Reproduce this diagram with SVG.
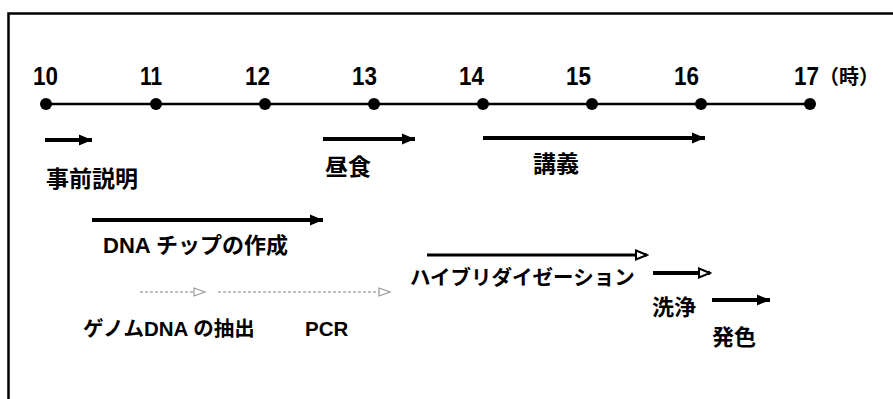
<svg xmlns="http://www.w3.org/2000/svg" width="893" height="399" viewBox="0 0 893 399">
<style>
.t{font-family:"Liberation Sans","Noto Sans CJK JP",sans-serif;font-weight:bold;fill:#000}
.num{font-size:25px}
.unit{font-size:20px}
.lbl{font-size:23px}
.mid{font-size:22px}
.sm{font-size:20.5px}
.ar{stroke:#000;stroke-width:4;fill:none}
.ar2{stroke:#000;stroke-width:3;fill:none}
.dot{stroke:#aaa;stroke-width:1.5;stroke-dasharray:3 2;fill:none}
</style>
<defs>
<marker id="ah" markerUnits="userSpaceOnUse" markerWidth="14" markerHeight="14" refX="13" refY="7" orient="auto">
<path d="M0,1.5 L13,7 L0,12.5 z" fill="#000"/>
</marker>
<marker id="ahh" markerUnits="userSpaceOnUse" markerWidth="14" markerHeight="14" refX="12" refY="7" orient="auto">
<path d="M1,2.5 L12,7 L1,11.5 z" fill="#fff" stroke="#000" stroke-width="2"/>
</marker>
<marker id="ahd" markerUnits="userSpaceOnUse" markerWidth="14" markerHeight="14" refX="12" refY="7" orient="auto">
<path d="M1,3 L12,7 L1,11 z" fill="#fff" stroke="#999" stroke-width="1.2"/>
</marker>
</defs>
<rect x="0" y="0" width="893" height="399" fill="#fff"/>
<path d="M8.5,399 V13.5 H893" fill="none" stroke="#000" stroke-width="2.5"/>

<g id="timeline">
<line x1="46" y1="104" x2="810" y2="104" stroke="#000" stroke-width="2.5"/>
<circle cx="46" cy="104" r="6"/>
<circle cx="156" cy="104" r="6"/>
<circle cx="265" cy="104" r="6"/>
<circle cx="374" cy="104" r="6"/>
<circle cx="483" cy="104" r="6"/>
<circle cx="592" cy="104" r="6"/>
<circle cx="701" cy="104" r="6"/>
<circle cx="810" cy="104" r="6"/>
<text class="t num" x="33" y="85" textLength="25" lengthAdjust="spacingAndGlyphs">10</text>
<text class="t num" x="140" y="85" textLength="22" lengthAdjust="spacingAndGlyphs">11</text>
<text class="t num" x="245" y="85" textLength="25" lengthAdjust="spacingAndGlyphs">12</text>
<text class="t num" x="352" y="85" textLength="25" lengthAdjust="spacingAndGlyphs">13</text>
<text class="t num" x="459" y="85" textLength="25" lengthAdjust="spacingAndGlyphs">14</text>
<text class="t num" x="566" y="85" textLength="25" lengthAdjust="spacingAndGlyphs">15</text>
<text class="t num" x="674" y="85" textLength="25" lengthAdjust="spacingAndGlyphs">16</text>
<text class="t num" x="794" y="85" textLength="25" lengthAdjust="spacingAndGlyphs">17</text>
<text class="t unit" x="819" y="84">（時）</text>
</g>

<g id="connectors">
<line class="ar" x1="45" y1="140" x2="92" y2="140" marker-end="url(#ah)"/>
<line class="ar" x1="323" y1="139" x2="415" y2="139" marker-end="url(#ah)"/>
<line class="ar" x1="483" y1="138" x2="705" y2="138" marker-end="url(#ah)"/>
<line class="ar" x1="92" y1="220" x2="323" y2="220" marker-end="url(#ah)"/>
<line class="ar2" x1="427" y1="255" x2="647" y2="255" marker-end="url(#ahh)"/>
<line class="ar" x1="653" y1="273" x2="710" y2="273" marker-end="url(#ahh)"/>
<line class="ar" x1="712" y1="300" x2="770" y2="300" marker-end="url(#ah)"/>
<line class="dot" x1="140" y1="292" x2="205" y2="292" marker-end="url(#ahd)"/>
<line class="dot" x1="218" y1="292" x2="390" y2="292" marker-end="url(#ahd)"/>
</g>

<g id="n-setsumei"><text class="t lbl" x="46" y="187">事前説明</text></g>
<g id="n-chushoku"><text class="t lbl" x="325" y="175">昼食</text></g>
<g id="n-kougi"><text class="t lbl" x="533" y="172">講義</text></g>
<g id="n-chip"><text class="t mid" x="103" y="253">DNA チップの作成</text></g>
<g id="n-hybri"><text class="t sm" x="410" y="285">ハイブリダイゼーション</text></g>
<g id="n-genome"><text class="t sm" x="83" y="336">ゲノムDNA の抽出</text></g>
<g id="n-pcr"><text class="t sm" x="305" y="336">PCR</text></g>
<g id="n-senjo"><text class="t mid" x="652" y="315">洗浄</text></g>
<g id="n-hasshoku"><text class="t mid" x="712" y="345">発色</text></g>
</svg>
